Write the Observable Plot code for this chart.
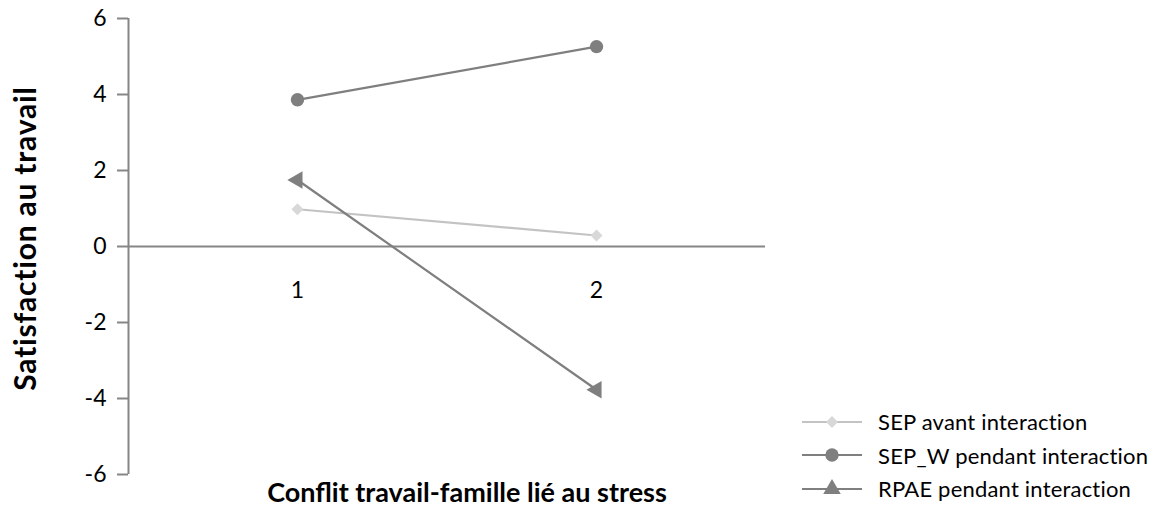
<!DOCTYPE html>
<html>
<head>
<meta charset="utf-8">
<script src="https://cdn.jsdelivr.net/npm/d3@7"></script>
<script src="https://cdn.jsdelivr.net/npm/@observablehq/plot@0.6"></script>
<style>
  body { margin: 0; background: #fff; font-family: Lato, "Open Sans", sans-serif; }
  #wrap { position: relative; width: 1159px; height: 512px; }
  #legend { position: absolute; left: 800px; top: 405px; }
  .row { display: flex; align-items: center; height: 33.5px; font-size: 22px; color: #000; white-space: nowrap; letter-spacing: 0.2px; }
  .row svg { margin-right: 14px; }
</style>
</head>
<body>
<div id="wrap"><div id="legend"></div></div>
<script>
// ---- data ----
const categories = [1, 2];
const sepAvant = [0.98, 0.29];
const sepW = [3.86, 5.26];
const rpae = [1.75, -3.77];
const seriesNames = ["SEP avant interaction", "SEP_W pendant interaction", "RPAE pendant interaction"];
const yTicks = [-6, -4, -2, 0, 2, 4, 6];
const yDomain = [-6, 6];
const xDomain = [0.435, 2.565];
const xTitle = "Conflit travail-famille lié au stress";
const yTitle = "Satisfaction au travail";

const styles = [
  {line: "#c3c3c3", fill: "#d8d8d8", symbol: "diamond2", r: 5.4, rotate: 0},
  {line: "#7f7f7f", fill: "#7f7f7f", symbol: "circle", r: 6.7, rotate: 0},
  {line: "#7f7f7f", fill: "#7f7f7f", symbol: "triangle", r: 6.5, rotate: -90}
];
const seriesValues = [sepAvant, sepW, rpae];
const rows = seriesValues.map((vals, s) => categories.map((c, i) => ({series: seriesNames[s], x: c, y: vals[i]})));

const axisColor = "#868686";
const marks = [
  Plot.ruleY([0], {stroke: axisColor, strokeWidth: 2}),
  Plot.ruleX([xDomain[0]], {stroke: axisColor, strokeWidth: 2}),
  Plot.axisY(yTicks, {tickSize: 11, tickPadding: 11, stroke: axisColor, strokeWidth: 2, fill: "#000", fontSize: 23, tickFormat: d => String(d), label: null}),
  Plot.text(categories, {x: d => d, y: () => 0, dy: 44, text: d => String(d), fontSize: 23, fill: "#000"}),
  Plot.text([yTitle], {frameAnchor: "left", textAnchor: "middle", rotate: -90, dx: -102, dy: -8, fontSize: 30, fontWeight: "bold", fill: "#000"}),
  Plot.text([xTitle], {frameAnchor: "bottom", textAnchor: "middle", lineAnchor: "middle", dy: 19, dx: 20, fontSize: 27, fontWeight: "bold", fill: "#000"})
];
rows.forEach((data, s) => {
  const st = styles[s];
  marks.push(Plot.line(data, {x: "x", y: "y", stroke: st.line, strokeWidth: 2.2}));
  marks.push(Plot.dot(data, {x: "x", y: "y", symbol: st.symbol, r: st.r, fill: st.fill, stroke: "none", rotate: st.rotate}));
});

const chart = Plot.plot({
  width: 1159,
  height: 512,
  marginLeft: 128,
  marginRight: 394,
  marginTop: 18,
  marginBottom: 38,
  style: {fontFamily: "Lato, 'Open Sans', sans-serif", background: "#fff"},
  x: {type: "linear", domain: xDomain, axis: null},
  y: {domain: yDomain, axis: null},
  marks
});
document.getElementById("wrap").prepend(chart);
d3.select(chart).selectAll("text").filter(function() { return this.textContent === yTitle; }).attr("letter-spacing", "0.8px");

// ---- legend ----
const legend = d3.select("#legend");
seriesNames.forEach((name, s) => {
  const st = styles[s];
  const row = legend.append("div").attr("class", "row");
  const svg = row.append("svg").attr("width", 64).attr("height", 22);
  svg.append("line").attr("x1", 2).attr("x2", 62).attr("y1", 11).attr("y2", 11)
    .attr("stroke", st.line).attr("stroke-width", 2.2);
  const sym = {circle: d3.symbolCircle, diamond2: d3.symbolDiamond2, triangle: d3.symbolTriangle}[st.symbol];
  svg.append("path").attr("d", d3.symbol(sym, Math.PI * st.r * st.r)())
    .attr("transform", "translate(32,11)").attr("fill", st.fill);
  row.append("span").text(name);
});
</script>
</body>
</html>
